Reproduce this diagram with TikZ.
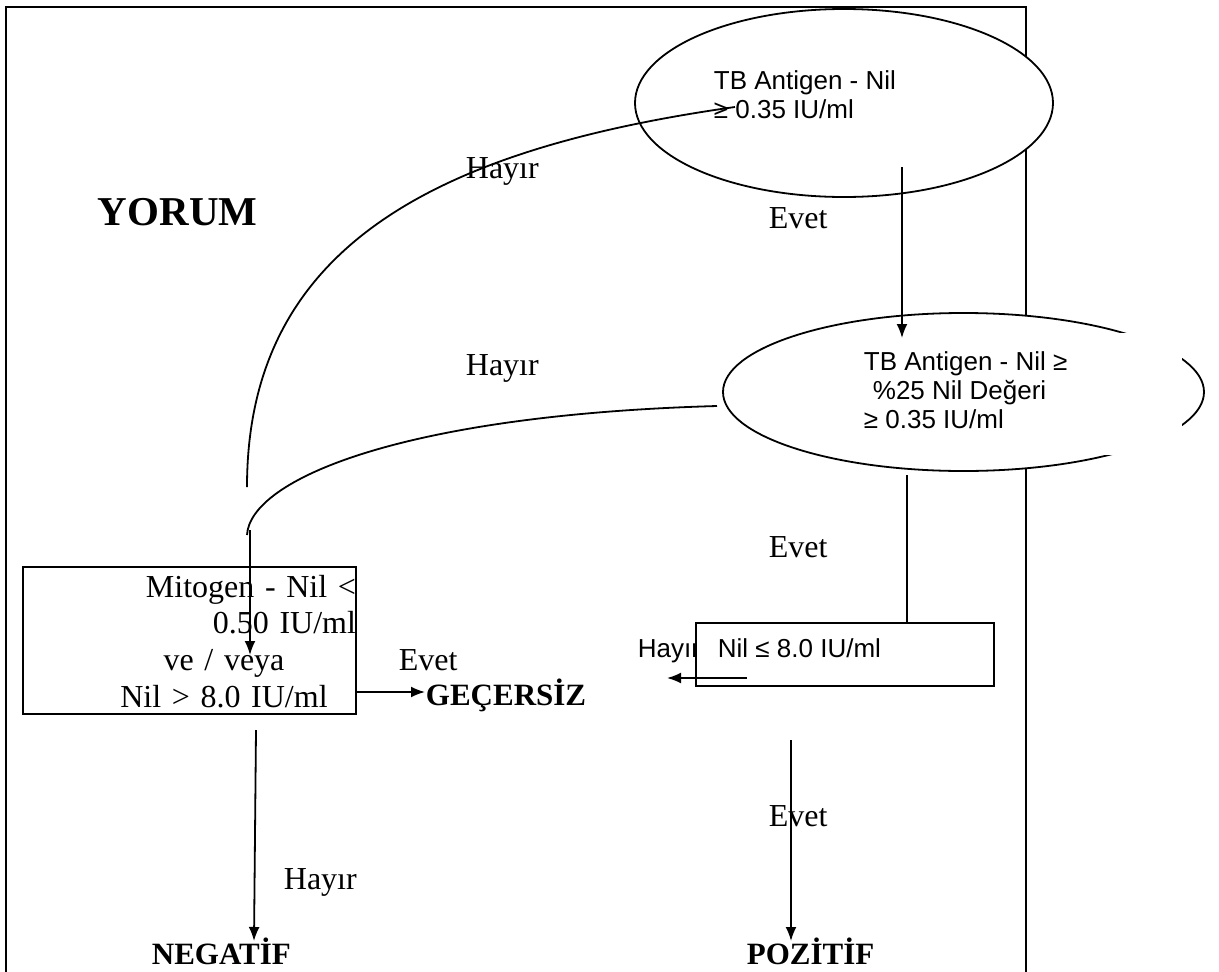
\documentclass[tikz,border=0pt]{standalone}
\usepackage{fontspec}
\setmainfont{Liberation Serif}
\newfontfamily\arialfont{Liberation Sans}
\usetikzlibrary{shapes.geometric,arrows.meta}

\begin{document}
\begin{tikzpicture}[x=1pt, y=-1pt, line width=1.8pt,
  serif/.style={inner sep=0, anchor=base west, font=\fontsize{32}{36.7}\selectfont},
  sans/.style={inner sep=0, anchor=base west, align=left, font=\arialfont\fontsize{26}{29}\selectfont},
  result/.style={inner sep=0, anchor=base west, font=\bfseries\fontsize{31}{36}\selectfont},
  oval/.style={ellipse, draw, fill=white, inner sep=0},
  framebox/.style={rectangle, draw, fill=white, line width=2.2pt, inner sep=0},
  arr/.style={-{Latex[length=14,width=11]}}]
  \useasboundingbox (0,0) rectangle (1219,972);
  \clip (0,0) rectangle (1219,972);

  % outer frame
  \draw[line width=2.2pt] (6,990) -- (6,7) -- (1026,7) -- (1026,990);

  % the two tests
  \node[oval, minimum width=418, minimum height=188] (tbnil) at (844,103) {};
  \node[oval, minimum width=481, minimum height=158] (tbpct) at (963.5,392) {};
  \fill[white] (1095,333) rectangle (1182,455);

  \node[sans] (tbniltext) at (713,118) {TB Antigen - Nil\\≥ 0.35 IU/ml};
  \node[sans] (tbpcttext) at (863,428) {TB Antigen - Nil ≥\\\hspace*{9pt}\%25 Nil Değeri\\≥ 0.35 IU/ml};

  \node[serif, font=\bfseries\fontsize{41}{48}\selectfont] (yorum) at (97,225) {YORUM};

  % Nil box
  \node[sans] (hayirnil) at (637,657) {Hayır};
  \node[framebox, minimum width=298, minimum height=63] (nilbox) at (845,654.5) {};
  \node[sans] (niltext) at (717,657) {Nil ≤ 8.0 IU/ml};

  % Mitogen box
  \node[framebox, minimum width=333, minimum height=147] (mitobox) at (189.5,640.5) {};
  \node[serif, anchor=base, align=center, text width=264] (mitotext) at (224,597)
    {\hspace*{0pt plus 1filll}Mitogen - Nil <\\\hspace*{0pt plus 1filll}0.50 IU/ml\\ve / veya\\Nil > 8.0 IU/ml};

  \node[result] (gecersiz) at (425,705) {GEÇERSİZ};
  \node[result] (negatif) at (151,964) {NEGATİF};
  \node[result] (pozitif) at (746,964) {POZİTİF};

  % answers
  \node[serif] (evet1) at (768,228) {Evet};
  \node[serif] (evet2) at (768,557) {Evet};
  \node[serif] (evet3) at (398,670) {Evet};
  \node[serif] (evet4) at (768,826) {Evet};
  \node[serif] (hayir1) at (465,178) {Hayır};
  \node[serif] (hayir2) at (465,375) {Hayır};
  \node[serif] (hayir3) at (283,889) {Hayır};

  % free ends
  \coordinate (up1) at (247,487);
  \coordinate (up2) at (247,535);
  \coordinate (drop) at (250,530);
  \coordinate (nilend) at (735,107);
  \coordinate (pctend) at (717,406);
  \coordinate (tbfoot) at (902,167);
  \coordinate (pctfoot) at (907,475);
  \coordinate (mitofoot) at (256,730);
  \coordinate (nilfoot) at (791,740);

  % connectors
  \draw (up1) .. controls (247,250) and (430,150) .. (nilend);
  \draw (up2) .. controls (250,480) and (400,415) .. (pctend);
  \draw[arr] (drop) -- (250,655);
  \draw[arr] (tbfoot) -- (902,338);
  \draw (pctfoot) -- (pctfoot |- nilbox.north);
  \draw[arr] (747,678) -- (667,678);
  \draw[arr] (mitobox.east |- 0,692) -- (gecersiz.west |- 0,692);
  \draw[arr] (mitofoot) -- (254,941);
  \draw[arr] (nilfoot) -- (791,941);
\end{tikzpicture}
\end{document}
